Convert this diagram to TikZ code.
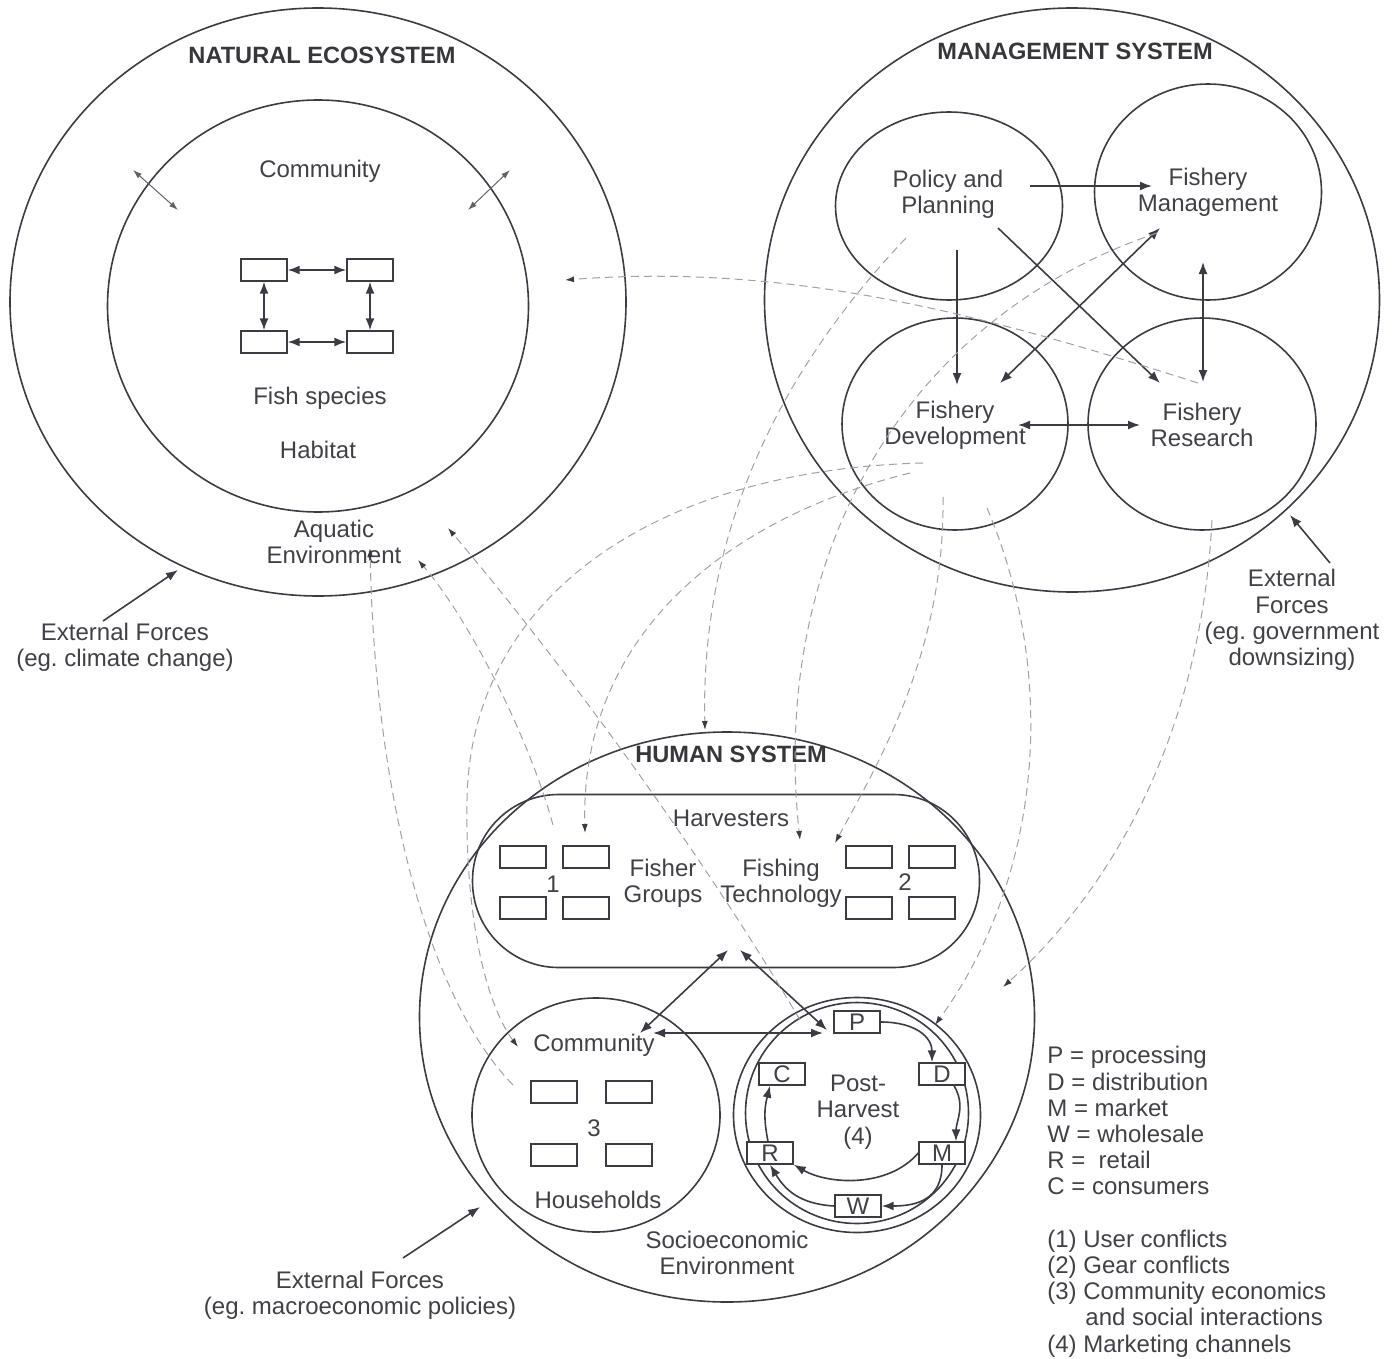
\documentclass[tikz,border=0pt]{standalone}
\usepackage{fontspec}
\setmainfont{Liberation Sans}
\usetikzlibrary{arrows,arrows.meta,calc,shapes.geometric}
\frenchspacing
\definecolor{linegray}{RGB}{62,58,68}
\definecolor{textgray}{RGB}{66,64,70}
\definecolor{dashgray}{RGB}{160,160,166}
\tikzset{
  ring/.style={draw=linegray, line width=0.8pt, ellipse, inner sep=0pt},
  fishbox/.style={draw=linegray, line width=0.7pt, rectangle, minimum width=23pt, minimum height=11pt, inner sep=0pt},
  lbl/.style={text=textgray, align=center, inner sep=0pt, font=\fontsize{12}{13.2}\selectfont},
  ttl/.style={text=textgray!85!black, inner sep=0pt, font=\fontsize{11.8}{13}\selectfont\bfseries},
  link/.style={draw=linegray, line width=0.8pt, -{Latex[length=6pt,width=4.5pt]}},
  dlink/.style={draw=linegray, line width=0.8pt, {Latex[length=6pt,width=4.5pt]}-{Latex[length=6pt,width=4.5pt]}},
  thinlink/.style={draw=linegray!80, line width=0.5pt, {Latex[length=4.5pt,width=3pt]}-{Latex[length=4.5pt,width=3pt]}},
  flowdash/.style={draw=dashgray, line width=0.5pt, dash pattern=on 4pt off 2.5pt, -{Latex[length=4.5pt,width=3pt,color=linegray]}}
}
\begin{document}
\begin{tikzpicture}[x=0.5pt, y=-0.5pt]
\useasboundingbox (0,0) rectangle (1397,1359);

% natural ecosystem
\node[ring, minimum width=308pt, minimum height=294pt] (ne) at (318,302) {};
\node[ring, minimum width=210.5pt, minimum height=206pt] (nein) at (318,306) {};
\node[ttl] (netitle) at (322,55) {NATURAL ECOSYSTEM};
\node[lbl] (necomm) at (320,171) {Community};
\node[fishbox] (f1) at (264,270) {};
\node[fishbox] (f2) at (370,270) {};
\node[fishbox] (f3) at (264,342) {};
\node[fishbox] (f4) at (370,342) {};
\draw[dlink] (f1) -- (f2);
\draw[dlink] (f3) -- (f4);
\draw[dlink] (f1) -- (f3);
\draw[dlink] (f2) -- (f4);
\node[lbl] (nefish) at (320,398) {Fish species};
\node[lbl] (nehab) at (318,450) {Habitat};
\node[lbl] (neaqua) at (334,542) {Aquatic\\Environment};
\coordinate (nx1) at (133,170); \coordinate (nx2) at (178,210);
\coordinate (nx3) at (510,170); \coordinate (nx4) at (468,210);
\draw[thinlink] (nx1) -- (nx2);
\draw[thinlink] (nx3) -- (nx4);

% management system
\node[ring, minimum width=307.5pt, minimum height=292pt] (ms) at (1072,300) {};
\node[ring, minimum width=113.5pt, minimum height=94pt] (pp) at (949,206) {};
\node[ring, minimum width=113.5pt, minimum height=108pt] (fm) at (1208,192) {};
\node[ring, minimum width=113pt, minimum height=106pt] (fd) at (955,424) {};
\node[ring, minimum width=114pt, minimum height=106pt] (fr) at (1202,424) {};
\node[ttl] (mstitle) at (1075,51) {MANAGEMENT SYSTEM};
\node[lbl] (pptxt) at (948,194) {Policy and\\Planning};
\node[lbl] (fmtxt) at (1208,192) {Fishery\\Management};
\node[lbl] (fdtxt) at (955,425) {Fishery\\Development};
\node[lbl] (frtxt) at (1202,425) {Fishery\\Research};
\coordinate (pp-r) at (1030,186); \coordinate (fm-l) at (1152,186);
\coordinate (pp-d) at (957,250); \coordinate (fd-u) at (957,385);
\coordinate (pp-x) at (998,228); \coordinate (fr-x) at (1160,383);
\coordinate (fd-x) at (1000,383); \coordinate (fm-x) at (1160,228);
\coordinate (fm-d) at (1203,262); \coordinate (fr-u) at (1203,382);
\coordinate (fd-r) at (1018,425); \coordinate (fr-l) at (1140,425);
\draw[link] (pp-r) -- (fm-l);
\draw[link] (pp-d) -- (fd-u);
\draw[link] (pp-x) -- (fr-x);
\draw[dlink] (fd-x) -- (fm-x);
\draw[dlink] (fm-d) -- (fr-u);
\draw[dlink] (fd-r) -- (fr-l);

% human system
\node[ring, minimum width=307.5pt, minimum height=285pt] (hs) at (727,1017) {};
\node[draw=linegray, line width=0.8pt, rectangle, rounded corners=43pt,
      minimum width=253.5pt, minimum height=86.5pt, inner sep=0pt] (hv) at (726,881) {};
\node[ttl] (hstitle) at (731,754) {HUMAN SYSTEM};
\node[lbl] (hvtxt) at (731,818) {Harvesters};
\node[lbl] (fgtxt) at (663,883) {Fisher\\Groups};
\node[lbl] (fttxt) at (781,883) {Fishing\\Technology};
\node[fishbox] (g1) at (523,857) {};
\node[fishbox] (g2) at (586,857) {};
\node[fishbox] (g3) at (523,908) {};
\node[fishbox] (g4) at (586,908) {};
\node[lbl] (n1) at (553,884) {1};
\node[fishbox] (t1) at (869,857) {};
\node[fishbox] (t2) at (932,857) {};
\node[fishbox] (t3) at (869,908) {};
\node[fishbox] (t4) at (932,908) {};
\node[lbl] (n2) at (905,882) {2};

\node[ring, minimum width=124pt, minimum height=117pt] (cm) at (596,1115) {};
\node[lbl] (cmtxt) at (594,1045) {Community};
\node[fishbox] (h1) at (554,1092) {};
\node[fishbox] (h2) at (629,1092) {};
\node[fishbox] (h3) at (554,1155) {};
\node[fishbox] (h4) at (629,1155) {};
\node[lbl] (n3) at (594,1128) {3};
\node[lbl] (hhtxt) at (598,1200) {Households};

\node[ring, minimum width=123.5pt, minimum height=117.5pt] (ph) at (857,1115) {};
\node[ring, minimum width=111.5pt, minimum height=110.5pt] (phin) at (857,1113) {};
\node[lbl] (phtxt) at (858,1112) {Post-\\Harvest\\(4)};
\node[fishbox, fill=white, text=textgray, font=\fontsize{12}{13}\selectfont] (bp) at (857,1022) {P};
\node[fishbox, fill=white, text=textgray, font=\fontsize{12}{13}\selectfont] (bd) at (942,1074) {D};
\node[fishbox, fill=white, text=textgray, font=\fontsize{12}{13}\selectfont] (bm) at (942,1153) {M};
\node[fishbox, fill=white, text=textgray, font=\fontsize{12}{13}\selectfont] (bw) at (858,1206) {W};
\node[fishbox, fill=white, text=textgray, font=\fontsize{12}{13}\selectfont] (br) at (770,1153) {R};
\node[fishbox, fill=white, text=textgray, font=\fontsize{12}{13}\selectfont] (bc) at (782,1074) {C};
\draw[link] (bp.east) .. controls +(35,0) and +(0,-25) .. ([xshift=-5pt]bd.north);
\draw[link] ([xshift=6pt]bd.south) .. controls +(12,20) and +(0,-20) .. ([xshift=7pt]bm.north);
\draw[link] (bm.south) .. controls +(0,35) and +(35,0) .. (bw.east);
\draw[link] (bm.west) .. controls +(-30,35) and +(35,20) .. (br.south east);
\draw[link] (bw.west) .. controls +(-35,-2) and +(15,25) .. (br.south);
\draw[link] ([xshift=-1pt]br.north) .. controls +(-5,-25) and +(-5,20) .. ([xshift=-6pt]bc.south);

\coordinate (hv-a) at (728,950); \coordinate (cm-a) at (640,1033);
\coordinate (hv-b) at (740,950); \coordinate (ph-a) at (827,1030);
\coordinate (cm-b) at (653,1033); \coordinate (ph-b) at (823,1033);
\draw[dlink] (hv-a) -- (cm-a);
\draw[dlink] (hv-b) -- (ph-a);
\draw[dlink] (cm-b) -- (ph-b);
\node[lbl] (setxt) at (727,1253) {Socioeconomic\\Environment};

% external forces
\node[lbl] (ext1) at (125,647) {External Forces\\(eg. climate change)};
\node[lbl] (ext2) at (1292,620) {External\\Forces\\(eg. government\\downsizing)};
\node[lbl] (ext3) at (360,1295) {External Forces\\(eg. macroeconomic policies)};
\coordinate (e1a) at (103,621); \coordinate (e1b) at (178,570);
\coordinate (e2a) at (1330,563); \coordinate (e2b) at (1290,515);
\coordinate (e3a) at (403,1258); \coordinate (e3b) at (480,1207);
\draw[link] (e1a) -- (e1b);
\draw[link] (e2a) -- (e2b);
\draw[link] (e3a) -- (e3b);

% dashed interactions
\coordinate (d1a) at (1198,383); \coordinate (d1b) at (565,280);
\coordinate (d2a) at (906,238);  \coordinate (d2b) at (705,730);
\coordinate (d3a) at (1157,233); \coordinate (d3b) at (800,840);
\coordinate (d4a) at (923,463);  \coordinate (d4m) at (467,800); \coordinate (d4b) at (518,1047);
\coordinate (d5a) at (910,473);  \coordinate (d5b) at (585,833);
\coordinate (d6a) at (943,497);  \coordinate (d6b) at (835,843);
\coordinate (d7a) at (987,508);  \coordinate (d7b) at (935,1025);
\coordinate (d8a) at (1212,520); \coordinate (d8b) at (1003,987);
\coordinate (d9a) at (513,1085); \coordinate (d9b) at (370,548);
\coordinate (d10a) at (553,825); \coordinate (d10b) at (418,560);
\coordinate (d11a) at (800,1020); \coordinate (d11b) at (448,528);
\draw[flowdash] (d1a) .. controls (1000,320) and (800,262) .. (d1b);
\draw[flowdash] (d2a) .. controls (790,360) and (700,520) .. (d2b);
\draw[flowdash] (d3a) .. controls (900,320) and (770,560) .. (d3b);
\draw[flowdash] (d4a) .. controls (650,470) and (470,600) .. (d4m) .. controls (465,930) and (490,1010) .. (d4b);
\draw[flowdash] (d5a) .. controls (720,520) and (580,640) .. (d5b);
\draw[flowdash] (d6a) .. controls (945,650) and (880,760) .. (d6b);
\draw[flowdash] (d7a) .. controls (1060,680) and (1040,880) .. (d7b);
\draw[flowdash] (d8a) .. controls (1200,750) and (1100,900) .. (d8b);
\draw[flowdash] (d9a) .. controls (430,1000) and (375,800) .. (d9b);
\draw[flowdash] (d10a) .. controls (530,740) and (470,620) .. (d10b);
\draw[flowdash] (d11a) .. controls (700,850) and (560,660) .. (d11b);

% legend
\node[lbl, align=left, anchor=north west, font=\fontsize{12}{13.1}\selectfont] (legend) at (1047,1046) {P = processing\\
D = distribution\\
M = market\\
W = wholesale\\
R = \ retail\\
C = consumers\\[13.1pt]
(1) User conflicts\\
(2) Gear conflicts\\
(3) Community economics\\
\hspace*{19pt}and social interactions\\
(4) Marketing channels};
\end{tikzpicture}
\end{document}
